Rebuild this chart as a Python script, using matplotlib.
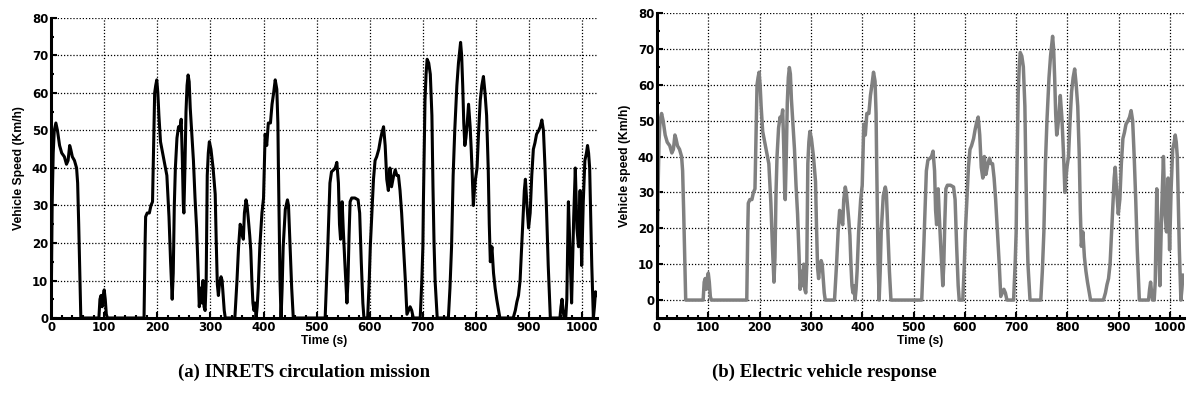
import matplotlib
matplotlib.use("Agg")
import matplotlib.pyplot as plt
from matplotlib.ticker import MultipleLocator

# INRETS driving cycle, speed breakpoints
time_s = [0, 2, 4, 6, 9, 12, 16, 20, 25, 29, 32, 35, 37, 40, 44, 48, 50, 52, 54, 56,
          90, 92, 94, 96, 98, 100, 102, 104, 106,
          175, 177, 178, 181, 185, 188, 191, 193, 195, 197, 199, 201, 203, 206, 210,
          214, 218, 222, 225, 228, 230, 232, 234, 237, 240, 242, 245, 247, 249, 250,
          252, 254, 256, 258, 260, 262, 265, 268, 271, 274, 277, 279, 282, 284, 286,
          288, 290, 292, 294, 296, 298, 301, 305, 309, 311, 313, 315, 317, 320, 322,
          324, 326, 328,
          346, 350, 353, 356, 358, 360, 362, 364, 367, 369, 371, 374, 376, 378, 380,
          382, 384, 386, 388, 390, 393, 397, 400, 402, 403, 406, 409, 413, 416, 419,
          422, 425, 427, 428, 430, 431, 433, 435, 437, 441, 445, 447, 450, 453, 456,
          516, 520, 523, 525, 528, 532, 535, 538, 541, 543, 545, 548, 550, 553, 557,
          559, 561, 563, 566, 572, 578, 581, 584, 587, 589,
          596, 599, 601, 604, 607, 610, 613, 617, 620, 623, 626, 629, 632, 635, 638,
          641, 645, 648, 651, 654, 657, 660, 664, 667, 670, 673, 676, 679, 682,
          695, 698, 700, 701, 703, 704, 706, 708, 711, 714, 717, 719, 721, 723, 727,
          748, 751, 754, 757, 760, 764, 767, 771, 773, 775, 777, 779, 781, 783, 786,
          789, 791, 793, 795, 797, 799, 802, 805, 808, 811, 814, 817, 820, 823, 825,
          827, 830, 833, 836, 839, 842, 845,
          870, 874, 877, 880, 883, 886, 889, 891, 893, 896, 899, 902, 905, 908, 911,
          914, 918, 921, 924, 927, 930, 933, 936, 940,
          958, 960, 962, 964, 966, 969, 971, 974, 977, 980, 982, 984, 987, 990, 993,
          996, 999, 1002, 1005, 1008, 1010, 1012, 1014, 1016, 1018, 1021, 1023, 1025, 1027]
speed_kmh = [0, 30, 44, 50, 52, 50, 46, 44, 43, 41, 42, 46, 45, 43, 42, 40, 36, 25, 12, 0,
             0, 5, 6, 3, 6, 7.5, 5, 1, 0,
             0, 20, 27, 28, 28, 30, 31, 45, 60, 62, 63.5, 60, 54, 47, 44,
             41, 38, 27, 15, 5, 12, 30, 40, 48, 51, 50, 53, 43, 30, 28,
             40, 55, 62, 64.8, 63, 56, 49, 42, 32, 24, 12, 3, 8, 4, 10,
             3, 2, 10, 38, 44, 47, 45, 40, 33, 20, 9, 6, 9, 11, 10,
             6, 2, 0,
             0, 10, 19, 25, 24, 22, 21, 28, 31.5, 30, 27, 22, 18, 10, 4,
             2, 4, 0, 3, 8, 19, 28, 32, 44, 49, 46, 52, 52, 57, 60,
             63.5, 61, 52, 40, 20, 10, 0, 8, 19, 29, 31.5, 30, 19, 8, 0,
             0, 15, 28, 36, 39, 39.5, 40, 41.5, 36, 25, 21, 31, 24, 15, 4,
             10, 22, 31, 32, 32, 31.5, 28, 15, 4, 0,
             0, 10, 19, 28, 37, 42, 43, 45, 47.5, 49.5, 51, 46, 37, 34, 40,
             35, 38, 39.5, 38, 38, 34, 28, 18, 10, 1, 2, 3, 2, 0,
             0, 10, 19, 31, 48, 58, 65, 69, 68, 65, 54, 35, 20, 10, 0,
             0, 8, 19, 38, 50, 62, 68, 73.5, 70, 62, 52, 46, 48, 51, 57,
             51, 45, 38, 30, 34, 37, 40, 50, 58, 62, 64.4, 60, 54, 40, 25,
             15, 19, 12, 8, 5, 2.5, 0,
             0, 2, 4.3, 6, 10, 19, 28, 34, 37, 30, 24, 28, 38, 45, 46.7,
             49, 50, 51, 52.8, 50, 40, 28, 14, 0,
             0, 3, 5, 2, 0, 0, 5, 31, 18, 4, 15, 27, 40, 24, 19,
             34, 14, 31, 42, 44, 46, 44, 40, 27, 14, 0, 3, 7, 6]

# the vehicle follows the mission, plotted in grey on the second panel
panels = [
    dict(rect=[0.043, 0.201, 0.4596, 0.7538], ylim=(0, 80), xmax=1028,
         color="black", lw=2.2, ylabel="Vehicle Speed (Km/h)",
         caption="(a) INRETS circulation mission", cap_x=178 / 1188),
    dict(rect=[0.553, 0.201, 0.4436, 0.7663], ylim=(-5, 80), xmax=1027,
         color="#808080", lw=2.5, ylabel="Vehicle speed (Km/h)",
         caption="(b) Electric vehicle response", cap_x=712 / 1188),
]

fig = plt.figure(figsize=(11.88, 3.98), dpi=100)

for p in panels:
    ax = fig.add_axes(p["rect"])
    ax.plot(time_s, speed_kmh, color=p["color"], lw=p["lw"], solid_joinstyle="round")
    ax.set_xlim(0, p["xmax"])
    ax.set_ylim(*p["ylim"])
    ax.xaxis.set_major_locator(MultipleLocator(100))
    ax.xaxis.set_minor_locator(MultipleLocator(20))
    ax.yaxis.set_major_locator(MultipleLocator(10))
    ax.yaxis.set_minor_locator(MultipleLocator(5))
    ax.grid(True, which="major", color="black", ls=(0, (1, 1.5)), lw=0.9)
    ax.spines["top"].set_visible(False)
    ax.spines["right"].set_visible(False)
    ax.spines["left"].set_linewidth(2.2)
    ax.spines["bottom"].set_linewidth(2.2)
    ax.tick_params(which="major", direction="in", length=4, width=1.5, pad=2)
    ax.tick_params(which="minor", direction="in", length=2.5, width=1.5)
    for lab in ax.get_xticklabels() + ax.get_yticklabels():
        lab.set_fontfamily("DejaVu Sans")
        lab.set_fontweight("bold")
        lab.set_fontsize(8.5)
    ax.set_xlabel("Time (s)", family="Liberation Sans", weight="bold",
                  fontsize=8.7, labelpad=1)
    ax.set_ylabel(p["ylabel"], family="Liberation Sans", weight="bold",
                  fontsize=8.7, labelpad=5)
    fig.text(p["cap_x"], 0.065, p["caption"], family="Liberation Serif",
             weight="bold", fontsize=13.5, ha="left", va="center")

fig.savefig("out.png", dpi=100)
